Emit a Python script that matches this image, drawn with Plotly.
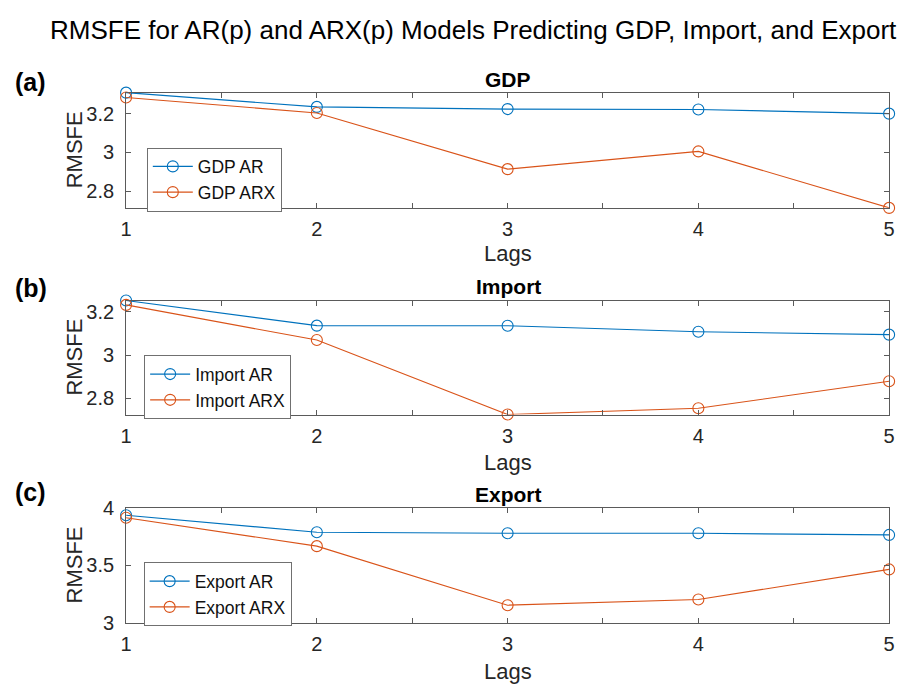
import plotly.graph_objects as go

# Lag orders evaluated
lags = [1, 2, 3, 4, 5]

# RMSFE by lag order
gdp_ar = [3.3085, 3.235, 3.2235, 3.2215, 3.200]
gdp_arx = [3.2835, 3.2035, 2.9135, 3.005, 2.7135]
import_ar = [3.251, 3.1354, 3.135, 3.107, 3.094]
import_arx = [3.231, 3.069, 2.726, 2.755, 2.879]
export_ar = [3.9375, 3.789, 3.780, 3.780, 3.766]
export_arx = [3.916, 3.668, 3.153, 3.203, 3.465]

panel_titles = ["GDP", "Import", "Export"]
panel_letters = ["(a)", "(b)", "(c)"]
series = [
    ("GDP AR", gdp_ar, "GDP ARX", gdp_arx),
    ("Import AR", import_ar, "Import ARX", import_arx),
    ("Export AR", export_ar, "Export ARX", export_arx),
]
y_ticks = [[2.8, 3, 3.2], [2.8, 3, 3.2], [3, 3.5, 4]]
y_ticktext = [["2.8", "3", "3.2"], ["2.8", "3", "3.2"], ["3", "3.5", "4"]]
y_ranges = [[min(gdp_arx), max(gdp_ar)], [min(import_arx), max(import_ar)], [3, 4]]

x_ticks = [1, 1.5, 2, 2.5, 3, 3.5, 4, 4.5, 5]
x_ticktext = ["1", "", "2", "", "3", "", "4", "", "5"]

BLUE = "#0072BD"
ORANGE = "#D95319"
AXIS = "#5a5a5a"
FONT = "Liberation Sans"

W, H = 904, 696
x_dom = [121.7 / W, 895 / W]
# panel boxes as (top px, bottom px)
boxes = [(84.3, 203.3), (299.0, 416.7), (513.3, 631.7)]
# legend left edge and vertical centre, px
legend_pos = [(142.7, 174.0), (140.0, 388.5), (139.5, 602.3)]
title_y = [71, 285, 499]
lags_y = [250, 466, 682]
letter_y = [73, 286, 497]

fig = go.Figure()
annotations = []

for i in range(3):
    n = "" if i == 0 else str(i + 1)
    xa, ya = "x" + n, "y" + n
    leg = "legend" if i == 0 else "legend" + str(i + 1)
    name_ar, vals_ar, name_arx, vals_arx = series[i]
    for name, vals, col in ((name_ar, vals_ar, BLUE), (name_arx, vals_arx, ORANGE)):
        fig.add_trace(go.Scatter(
            x=lags, y=vals, name=name, mode="lines+markers",
            line=dict(color=col, width=1.1),
            marker=dict(symbol="circle-open", size=11, color=col, line=dict(width=1.1)),
            xaxis=xa, yaxis=ya, legend=leg, cliponaxis=False,
        ))

    top, bot = boxes[i]
    common = dict(
        showline=True, linecolor=AXIS, linewidth=1, mirror="ticks",
        ticks="inside", ticklen=5, tickcolor=AXIS, showgrid=False, zeroline=False,
        tickfont=dict(family=FONT, size=20, color="#262626"),
    )
    fig.update_layout(**{
        "xaxis" + n: dict(domain=x_dom, range=[1, 5], tickmode="array",
                          tickvals=x_ticks, ticktext=x_ticktext,
                          anchor=ya, ticklabelstandoff=3, **common),
        "yaxis" + n: dict(domain=[1 - bot / H, 1 - top / H], range=y_ranges[i],
                          tickmode="array", tickvals=y_ticks[i], ticktext=y_ticktext[i],
                          anchor=xa, ticklabelstandoff=7, **common),
        leg: dict(x=legend_pos[i][0] / W, y=1 - legend_pos[i][1] / H,
                  xanchor="left", yanchor="middle", bgcolor="white",
                  bordercolor="#707070", borderwidth=1,
                  font=dict(family=FONT, size=17.5, color="#111111"),
                  tracegroupgap=0, itemwidth=40),
    })

    mid_y = 1 - (top + bot) / 2 / H
    annotations += [
        dict(text="<b>%s</b>" % panel_titles[i], x=509 / W, y=1 - title_y[i] / H,
             font=dict(family=FONT, size=21, color="black")),
        dict(text="Lags", x=509 / W, y=1 - lags_y[i] / H,
             font=dict(family=FONT, size=22, color="#262626")),
        dict(text="<b>%s</b>" % panel_letters[i], x=25 / W, y=1 - letter_y[i] / H,
             font=dict(family=FONT, size=25, color="black")),
        dict(text="RMSFE", x=69 / W, y=mid_y, textangle=-90,
             font=dict(family=FONT, size=22, color="#262626")),
    ]

annotations.append(dict(
    text="RMSFE for AR(p) and ARX(p) Models Predicting GDP, Import, and Export",
    x=474 / W, y=1 - 20 / H, font=dict(family=FONT, size=26, color="black")))

for a in annotations:
    a.update(xref="paper", yref="paper", showarrow=False,
             xanchor="center", yanchor="middle")

fig.update_layout(
    width=W, height=H, margin=dict(l=0, r=0, t=0, b=0),
    paper_bgcolor="white", plot_bgcolor="white",
    annotations=annotations,
)

fig.write_html("out.html")
